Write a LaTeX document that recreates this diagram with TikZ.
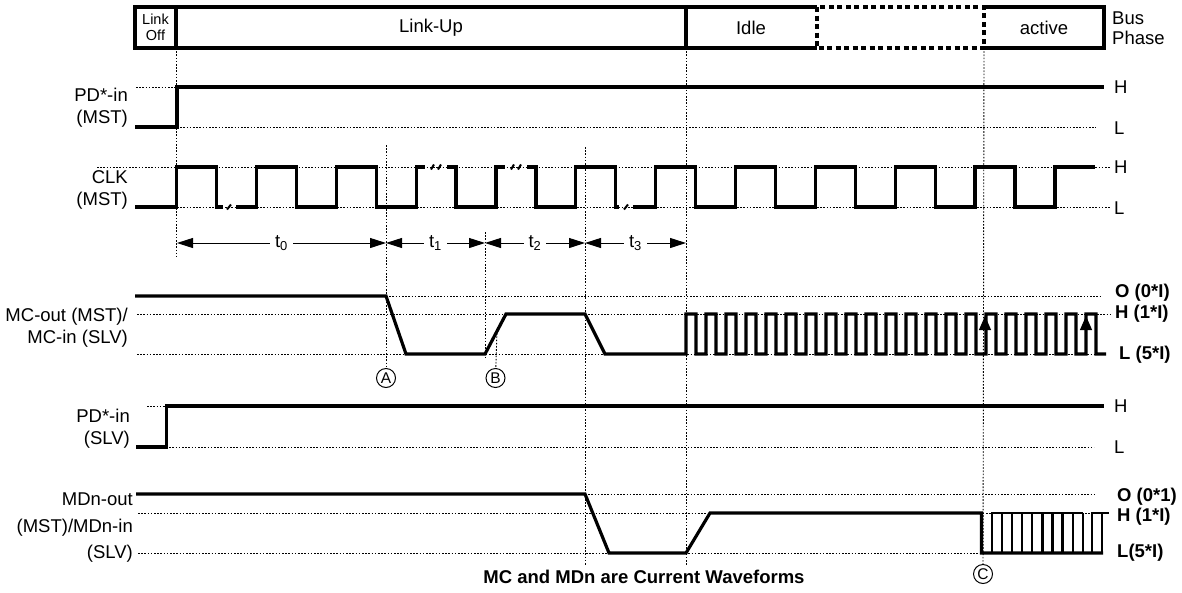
\documentclass[tikz,border=0pt]{standalone}
\usepackage{fontspec}
\setmainfont{Liberation Sans}
\usetikzlibrary{arrows.meta}

\tikzset{
  wave/.style={line width=3.2pt, line join=miter},
  guide/.style={line width=0.9pt, dash pattern=on 1.6pt off 1.6pt},
  sig/.style={font=\fontsize{18.5}{22}\selectfont, align=right, anchor=east, inner sep=0pt},
  lev/.style={font=\fontsize{18.5}{20}\selectfont, anchor=west, inner sep=0pt},
  levb/.style={font=\fontsize{18.5}{20}\selectfont\bfseries, anchor=west, inner sep=0pt},
  phase/.style={font=\fontsize{18.5}{20}\selectfont, inner sep=0pt},
  circ/.style={circle, draw, line width=1pt, minimum size=19pt, inner sep=0pt, font=\fontsize{15.5}{15.5}\selectfont},
  span/.style={{Triangle[length=16pt,width=10pt]}-{Triangle[length=16pt,width=10pt]}, line width=1pt},
  tlabel/.style={fill=white, font=\fontsize{18.5}{20}\selectfont, inner xsep=5pt},
  tick/.style={line width=2pt},
  comb/.style={line width=2.4pt, line join=miter},
}

\begin{document}
\begin{tikzpicture}[x=1pt,y=-1pt]
\useasboundingbox (0,0) rectangle (1182,592);

\draw[wave] (817,7) -- (135,7) -- (135,48) -- (817,48);
\draw[wave, dash pattern=on 5pt off 3.5pt] (817,7) rectangle (984,48);
\draw[wave] (984,7) -- (1104,7) -- (1104,48) -- (984,48);
\draw[wave] (176,7) -- (176,48) (686,7) -- (686,48);
\node[phase, font=\fontsize{14.5}{15.5}\selectfont, align=center] (linkoff) at (155.5,27.5) {Link\\Off};
\node[phase] (linkup) at (431,27.5) {Link-Up};
\node[phase] (idle) at (751,27.5) {Idle};
\node[phase] (active) at (1044,27.5) {active};
\node[lev, align=left, font=\fontsize{18.5}{19.5}\selectfont] (busphase) at (1112,28) {Bus\\Phase};

\coordinate (g176a) at (176,48);  \coordinate (g176b) at (176,257);
\coordinate (g386a) at (386,145);
\coordinate (g485a) at (485,232); \coordinate (g485b) at (485,358);
\coordinate (g585a) at (585,147); \coordinate (g585b) at (585,565);
\coordinate (g686a) at (686,48);  \coordinate (g686b) at (686,565);
\coordinate (g984a) at (984,48);
\coordinate (gBa) at (497,330);
\node[circ] (cA) at (386,378) {A};
\node[circ] (cB) at (495.5,378) {B};
\node[circ] (cC) at (983,574) {C};
\draw[guide] (g176a) -- (g176b);
\draw[guide] (g386a) -- (cA);
\draw[guide] (g485a) -- (g485b);
\draw[guide] (g585a) -- (g585b);
\draw[guide] (g686a) -- (g686b);
\draw[guide] (g984a) -- (cC);
\draw[guide] (gBa) -- (cB);

\node[sig] (pdmst) at (128,108) {PD*-in\\(MST)};
\draw[guide] (136,87) -- (176,87) (177,127) -- (1096,127);
\draw[wave] (135,127) -- (177,127) -- (177,87) -- (1104,87);
\node[lev] (pdmH) at (1114,87) {H};
\node[lev] (pdmL) at (1114,128) {L};

\node[sig] (clk) at (128,190) {CLK\\(MST)};
\draw[guide] (97,167) -- (1110,167) (177,207) -- (1110,207);
\draw[wave] (135,207) -- (176.5,207) -- (176.5,167) -- (216.4,167) -- (216.4,207) -- (223,207);
\draw[tick] (227,209.5) -- (231,204.5);
\draw[wave] (236,207) -- (256.4,207) -- (256.4,167) -- (296.2,167) -- (296.2,207) -- (336.2,207) -- (336.2,167)
  -- (376.1,167) -- (376.1,207) -- (416.1,207) -- (416.1,167) -- (425,167);
\draw[tick] (431,169.5) -- (434,164.5) (438,169.5) -- (441,164.5);
\draw[wave] (447,167) -- (456,167) -- (456,207) -- (495.9,207) -- (495.9,167) -- (505,167);
\draw[tick] (511,169.5) -- (514,164.5) (518,169.5) -- (521,164.5);
\draw[wave] (527,167) -- (535.9,167) -- (535.9,207) -- (575.8,207) -- (575.8,167) -- (615.7,167) -- (615.7,207) -- (619,207);
\draw[tick] (624,209.5) -- (628,204.5);
\draw[wave] (633,207) -- (655.6,207) -- (655.6,167) -- (695.6,167) -- (695.6,207) -- (735.5,207) -- (735.5,167)
  -- (775.4,167) -- (775.4,207) -- (815.3,207) -- (815.3,167) -- (855.3,167) -- (855.3,207) -- (895.2,207)
  -- (895.2,167) -- (935.1,167) -- (935.1,207) -- (975,207) -- (975,167) -- (1015,167) -- (1015,207)
  -- (1054.9,207) -- (1054.9,167) -- (1095,167);
\node[lev] (clkH) at (1114,167) {H};
\node[lev] (clkL) at (1114,208) {L};

\coordinate (t0a) at (177,243); \coordinate (t0b) at (386,243);
\coordinate (t1b) at (485,243); \coordinate (t2b) at (585,243); \coordinate (t3b) at (686,243);
\draw[span] (t0a) -- node[tlabel] (lt0) {t\textsubscript{0}} (t0b);
\draw[span] (t0b) -- node[tlabel] (lt1) {t\textsubscript{1}} (t1b);
\draw[span] (t1b) -- node[tlabel] (lt2) {t\textsubscript{2}} (t2b);
\draw[span] (t2b) -- node[tlabel] (lt3) {t\textsubscript{3}} (t3b);

\node[sig] (mc) at (128,328) {MC-out (MST)/\\MC-in (SLV)};
\draw[guide] (386,296) -- (1100,296) (137,314) -- (1110,314) (137,354) -- (1100,354);
\draw[wave] (135,296) -- (386,296) -- (406,354) -- (485,354) -- (506,314) -- (585,314) -- (605,354) -- (686,354)
  \foreach \k in {0,...,20}{ -- ({686+20*\k},314) -- ({696+20*\k},314) -- ({696+20*\k},354) -- ({706+20*\k},354) };
\coordinate (upA) at (985,333); \coordinate (upAt) at (985,316);
\coordinate (upB) at (1086,333); \coordinate (upBt) at (1086,316);
\draw[-{Triangle[length=14pt,width=12pt]}, line width=1pt] (upA) -- (upAt);
\draw[-{Triangle[length=14pt,width=12pt]}, line width=1pt] (upB) -- (upBt);
\node[levb] (mcO) at (1115,293) {O (0*I)};
\node[levb] (mcH) at (1115,314) {H (1*I)};
\node[levb] (mcL) at (1119,355) {L (5*I)};

\node[sig] (pdslv) at (130,429) {PD*-in\\(SLV)};
\draw[guide] (147,406) -- (165,406) (166,447) -- (1094,447);
\draw[wave] (136,447) -- (166.5,447) -- (166.5,406) -- (1104,406);
\node[lev] (pdsH) at (1114,406) {H};
\node[lev] (pdsL) at (1114,447) {L};

\node[sig, font=\fontsize{18.5}{26.5}\selectfont] (mdn) at (133,528) {MDn-out\\(MST)/MDn-in\\(SLV)};
\draw[guide] (585,494) -- (1096,494) (138,513) -- (1110,513) (138,553) -- (981,553);
\draw[wave] (136,494) -- (585,494) -- (609,553) -- (686,553) -- (710,513) -- (981.5,513) -- (981.5,553) -- (1103,553);
\draw[comb] (991.7,553) -- (991.7,513) -- (1083,513);
\foreach \k in {1,...,9} \draw[comb] ({991.7+10.14*\k},553) -- ({991.7+10.14*\k},513);
\draw[comb] (1092,553) -- (1092,513) -- (1109,513) (1102,513) -- (1102,553);
\node[levb] (mdO) at (1117,497) {O (0*1)};
\node[levb] (mdH) at (1117,517) {H (1*I)};
\node[levb] (mdL) at (1117,553) {L(5*I)};

\node[font=\fontsize{18.5}{20}\selectfont\bfseries, inner sep=0pt] (note) at (644,577) {MC and MDn are Current Waveforms};
\end{tikzpicture}
\end{document}
